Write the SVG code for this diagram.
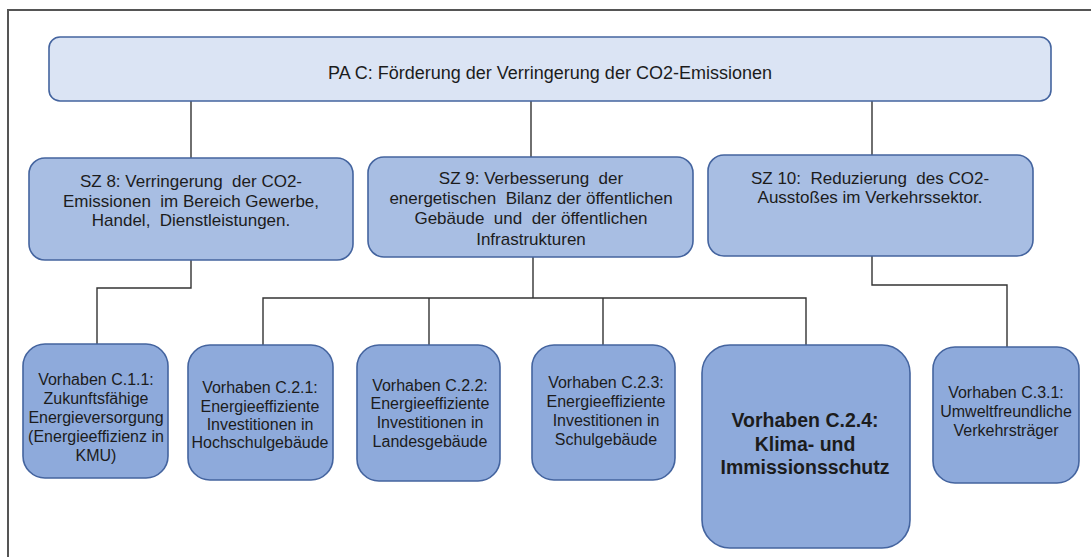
<svg xmlns="http://www.w3.org/2000/svg" width="1091" height="557" viewBox="0 0 1091 557">
  <style>
    .box { stroke: #44649f; stroke-width: 1.6; }
    .top { fill: #dbe4f4; }
    .mid { fill: #a8bee3; }
    .low { fill: #8eaadb; }
    .wire { fill: none; stroke: #333; stroke-width: 1.4; }
    text { font-family: "Liberation Sans", Arial, sans-serif; fill: #1c1c1c; text-anchor: middle; white-space: pre; }
    .t18 { font-size: 18px; }
    .t17 { font-size: 17px; }
    .t16 { font-size: 16px; }
    .bold { font-size: 19.5px; font-weight: bold; }
  </style>

  <rect width="1091" height="557" fill="#ffffff"/>
  <!-- outer frame -->
  <path d="M8,557 V10 H1091" fill="none" stroke="#555" stroke-width="2"/>

  <!-- connectors -->
  <g id="connectors">
    <path class="wire" d="M191,101 V158"/>
    <path class="wire" d="M531,101 V157"/>
    <path class="wire" d="M872,101 V155"/>
    <path class="wire" d="M191,260 V288 H97 V344"/>
    <path class="wire" d="M533,257 V298"/>
    <path class="wire" d="M263,345 V298 H806 V345"/>
    <path class="wire" d="M429,298 V345"/>
    <path class="wire" d="M603,298 V345"/>
    <path class="wire" d="M872,256 V285 H1007 V347"/>
  </g>

  <g id="pa-c">
    <rect class="box top" x="49" y="37" width="1002" height="64" rx="11"/>
    <text class="t18" x="550" y="79">PA C: Förderung der Verringerung der CO2-Emissionen</text>
  </g>

  <g id="sz8">
    <rect class="box mid" x="29" y="158" width="324" height="102" rx="16"/>
    <text class="t17" x="191" y="187">SZ 8: Verringerung  der CO2-</text>
    <text class="t17" x="191" y="207">Emissionen  im Bereich Gewerbe,</text>
    <text class="t17" x="191" y="226">Handel,  Dienstleistungen.</text>
  </g>

  <g id="sz9">
    <rect class="box mid" x="368" y="157" width="325" height="100" rx="16"/>
    <text class="t17" x="531" y="184">SZ 9: Verbesserung  der</text>
    <text class="t17" x="531" y="204">energetischen  Bilanz der öffentlichen</text>
    <text class="t17" x="531" y="224">Gebäude  und  der öffentlichen</text>
    <text class="t17" x="531" y="245">Infrastrukturen</text>
  </g>

  <g id="sz10">
    <rect class="box mid" x="708" y="155" width="325" height="101" rx="16"/>
    <text class="t17" x="870" y="184">SZ 10:  Reduzierung  des CO2-</text>
    <text class="t17" x="870" y="203">Ausstoßes im Verkehrssektor.</text>
  </g>

  <g id="c11">
    <rect class="box low" x="23" y="344" width="145" height="134" rx="22"/>
    <text class="t16" x="96" y="385">Vorhaben C.1.1:</text>
    <text class="t16" x="96" y="404">Zukunftsfähige</text>
    <text class="t16" x="96" y="423">Energieversorgung</text>
    <text class="t16" x="96" y="442">(Energieeffizienz in</text>
    <text class="t16" x="96" y="461">KMU)</text>
  </g>

  <g id="c21">
    <rect class="box low" x="188" y="345" width="145" height="135" rx="22"/>
    <text class="t16" x="260" y="393">Vorhaben C.2.1:</text>
    <text class="t16" x="260" y="412">Energieeffiziente</text>
    <text class="t16" x="260" y="430">Investitionen in</text>
    <text class="t16" x="260" y="448">Hochschulgebäude</text>
  </g>

  <g id="c22">
    <rect class="box low" x="357" y="345" width="143" height="136" rx="22"/>
    <text class="t16" x="430" y="391">Vorhaben C.2.2:</text>
    <text class="t16" x="430" y="409">Energieeffiziente</text>
    <text class="t16" x="430" y="428">Investitionen in</text>
    <text class="t16" x="430" y="447">Landesgebäude</text>
  </g>

  <g id="c23">
    <rect class="box low" x="532" y="345" width="143" height="135" rx="22"/>
    <text class="t16" x="606" y="388">Vorhaben C.2.3:</text>
    <text class="t16" x="606" y="407">Energieeffiziente</text>
    <text class="t16" x="606" y="426">Investitionen in</text>
    <text class="t16" x="606" y="445">Schulgebäude</text>
  </g>

  <g id="c24">
    <rect class="box low" x="702" y="345" width="208" height="203" rx="28"/>
    <text class="bold" x="805" y="427">Vorhaben C.2.4:</text>
    <text class="bold" x="805" y="451">Klima- und</text>
    <text class="bold" x="805" y="474">Immissionsschutz</text>
  </g>

  <g id="c31">
    <rect class="box low" x="933" y="347" width="146" height="136" rx="22"/>
    <text class="t16" x="1006" y="398">Vorhaben C.3.1:</text>
    <text class="t16" x="1006" y="417">Umweltfreundliche</text>
    <text class="t16" x="1006" y="436">Verkehrsträger</text>
  </g>
</svg>
